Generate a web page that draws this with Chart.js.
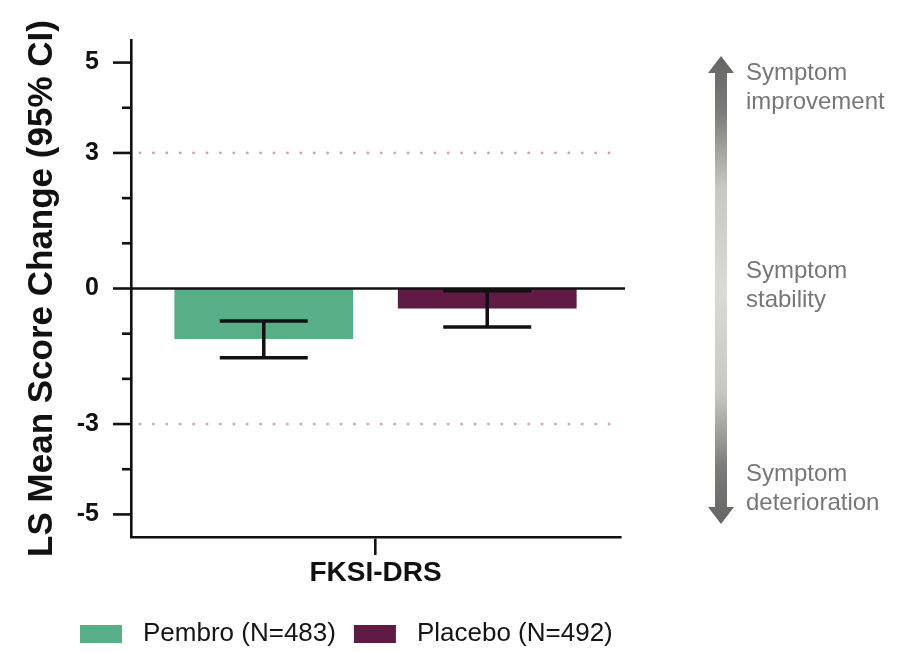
<!DOCTYPE html>
<html><head><meta charset="utf-8">
<script src="https://cdn.jsdelivr.net/npm/chart.js@4.4.1/dist/chart.umd.min.js"></script>
<style>html,body{margin:0;padding:0;background:#fff;}#wrap{width:919px;height:652px;}</style>
</head><body><div id="wrap"><canvas id="c" width="919" height="652"></canvas></div>
<script>
const categories = ["FKSI-DRS"];
const seriesLabels = ["Pembro (N=483)", "Placebo (N=492)"];
const seriesColors = ["#58ae86", "#611a44"];
const pembroMean = [-1.12];
const pembroLow = [-1.53];
const pembroHigh = [-0.72];
const placeboMean = [-0.44];
const placeboLow = [-0.85];
const placeboHigh = [-0.05];
const yTickValues = [-5, -4, -3, -2, -1, 0, 1, 2, 3, 4, 5];
const yTickLabels = ["-5", "", "-3", "", "", "0", "", "", "3", "", "5"];
const refLines = [3, -3];
const arrowLabels = [["Symptom", "improvement"], ["Symptom", "stability"], ["Symptom", "deterioration"]];
const yTitle = "LS Mean Score Change (95% CI)";

const FONT = "'Liberation Sans', Arial, sans-serif";

const custom = {
  id: 'custom',
  beforeDatasetsDraw(chart) {
    const {ctx, chartArea: a, scales: {y}} = chart;
    ctx.save();
    ctx.strokeStyle = '#d3a2b2';
    ctx.lineWidth = 2.8;
    ctx.lineCap = 'round';
    ctx.setLineDash([0.1, 13.3]);
    refLines.forEach(v => {
      const py = y.getPixelForValue(v);
      ctx.beginPath(); ctx.moveTo(a.left + 9, py); ctx.lineTo(a.right, py); ctx.stroke();
    });
    ctx.restore();
  },
  afterDatasetsDraw(chart) {
    const {ctx, chartArea: a, scales: {y}} = chart;
    ctx.save();
    const y0 = y.getPixelForValue(0);
    ctx.strokeStyle = '#111'; ctx.lineWidth = 2.6;
    ctx.beginPath(); ctx.moveTo(a.left, y0); ctx.lineTo(a.right + 5, y0); ctx.stroke();
    yTickValues.forEach((v, i) => {
      const py = y.getPixelForValue(v);
      const len = yTickLabels[i] ? 18 : 9;
      ctx.beginPath(); ctx.moveTo(a.left - len, py); ctx.lineTo(a.left, py); ctx.stroke();
    });
    ctx.lineWidth = 3.5;
    chart.data.datasets.forEach((ds, di) => {
      const meta = chart.getDatasetMeta(di);
      meta.data.forEach((bar, i) => {
        const x = bar.x;
        const lo = y.getPixelForValue(ds.errLow[i]);
        const hi = y.getPixelForValue(ds.errHigh[i]);
        ctx.beginPath();
        ctx.moveTo(x, lo); ctx.lineTo(x, hi);
        ctx.moveTo(x - 44, lo); ctx.lineTo(x + 44, lo);
        ctx.moveTo(x - 44, hi); ctx.lineTo(x + 44, hi);
        ctx.stroke();
      });
    });
    ctx.restore();
  },
  afterDraw(chart) {
    const {ctx} = chart;
    ctx.save();
    const cx = 721, top = 56, bot = 524, sw = 6, hw = 13, hh = 17;
    const g = ctx.createLinearGradient(0, top, 0, bot);
    g.addColorStop(0, '#676562'); g.addColorStop(0.12, '#7d7b77'); g.addColorStop(0.28, '#c9c7c2');
    g.addColorStop(0.5, '#dcdad5'); g.addColorStop(0.72, '#c9c7c2'); g.addColorStop(0.88, '#7d7b77');
    g.addColorStop(1, '#676562');
    ctx.fillStyle = g;
    ctx.beginPath();
    ctx.moveTo(cx, top); ctx.lineTo(cx + hw, top + hh); ctx.lineTo(cx + sw, top + hh);
    ctx.lineTo(cx + sw, bot - hh); ctx.lineTo(cx + hw, bot - hh); ctx.lineTo(cx, bot);
    ctx.lineTo(cx - hw, bot - hh); ctx.lineTo(cx - sw, bot - hh); ctx.lineTo(cx - sw, top + hh);
    ctx.lineTo(cx - hw, top + hh); ctx.closePath(); ctx.fill();
    ctx.fillStyle = '#777777';
    ctx.font = '24px ' + FONT;
    ctx.textBaseline = 'middle'; ctx.textAlign = 'left';
    const ys = [73, 271, 474];
    arrowLabels.forEach((lines, k) => {
      lines.forEach((t, j) => ctx.fillText(t, 746, ys[k] + j * 29));
    });
    ctx.font = '26px ' + FONT;
    ctx.textBaseline = 'middle';
    let x = 80; const ly = 634;
    chart.data.datasets.forEach((ds) => {
      ctx.fillStyle = ds.backgroundColor;
      ctx.fillRect(x, ly - 9, 42, 18);
      x += 42 + 21;
      ctx.fillStyle = '#151515';
      ctx.fillText(ds.label, x, ly);
      x += ctx.measureText(ds.label).width + 18;
    });
    ctx.restore();
  }
};

new Chart(document.getElementById('c'), {
  type: 'bar',
  data: {
    labels: categories,
    datasets: [
      {label: seriesLabels[0], data: pembroMean, backgroundColor: seriesColors[0], borderWidth: 0, errLow: pembroLow, errHigh: pembroHigh},
      {label: seriesLabels[1], data: placeboMean, backgroundColor: seriesColors[1], borderWidth: 0, errLow: placeboLow, errHigh: placeboHigh}
    ]
  },
  options: {
    responsive: false,
    animation: false,
    layout: {padding: {left: 0, top: 40, right: 299, bottom: 0}},
    plugins: {legend: {display: false}, tooltip: {enabled: false}},
    datasets: {bar: {barPercentage: 0.8, categoryPercentage: 0.914}},
    scales: {
      x: {
        grid: {display: true, drawOnChartArea: false, offset: false, tickLength: 18, color: '#111', lineWidth: 2.6},
        border: {display: true, color: '#111', width: 2.6},
        ticks: {font: {family: FONT, size: 28, weight: 'bold'}, color: '#111', padding: 1},
        afterFit(s) { s.height = 115; }
      },
      y: {
        min: -5.5, max: 5.5,
        afterBuildTicks(s) { s.ticks = yTickValues.map(v => ({value: v})); },
        ticks: {
          autoSkip: false,
          callback: (v) => yTickLabels[yTickValues.indexOf(v)],
          padding: 24,
          font: {family: FONT, size: 25, weight: 'bold'}, color: '#111'
        },
        grid: {display: false},
        border: {display: true, color: '#111', width: 2.6},
        title: {display: true, text: yTitle, font: {family: FONT, size: 35, weight: 'bold'}, color: '#111', padding: {top: 21, bottom: 0}},
        afterFit(s) { s.width = 131; }
      }
    }
  },
  plugins: [custom]
});
</script>
</body></html>
